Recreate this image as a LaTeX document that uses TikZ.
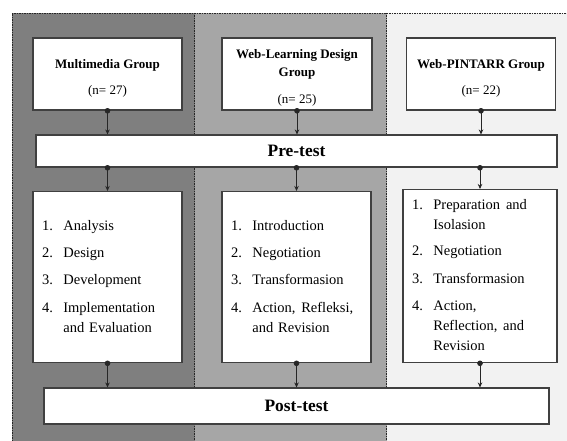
\documentclass[tikz,border=0pt]{standalone}
\usepackage{fontspec}
\setmainfont{Liberation Serif}
\usepackage{xcolor}
\definecolor{PanelDark}{HTML}{7F7F7F}
\definecolor{PanelMid}{HTML}{A6A6A6}
\definecolor{PanelLight}{HTML}{F2F2F2}
\definecolor{BoxLine}{HTML}{404040}
\usepackage{tikz}
\usetikzlibrary{arrows.meta,positioning}

\begin{document}
\begin{tikzpicture}[x=1pt,y=-1pt,
  box/.style={draw=BoxLine, line width=1.1pt, fill=white, inner sep=0pt},
  groupbox/.style={box, minimum height=72pt, align=center, font=\fontsize{13}{18}\selectfont},
  stagebox/.style={box, minimum height=171pt, inner xsep=9pt, font=\fontsize{14.5}{20}\selectfont},
  testbox/.style={box, font=\fontsize{17.4}{20}\selectfont\bfseries},
  link/.style={draw=black!85, line width=0.7pt, shorten <=-2.5pt, {Circle[length=5.5pt]}-{Stealth[length=5pt,width=4.5pt]}},
  panelline/.style={draw=black!85, line width=0.5pt, dash pattern=on 1.5pt off 1pt}]
  \useasboundingbox (0,0) rectangle (567,441);
  % panels
  \fill[PanelDark] (12,13) rectangle (194.5,441);
  \fill[PanelMid] (194.5,13) rectangle (386.5,441);
  \fill[PanelLight] (386.5,13) rectangle (567,441);
  \draw[panelline] (12,441) -- (12,13) -- (567,13);
  \draw[panelline] (194.5,13) -- (194.5,441);
  \draw[panelline] (386.5,13) -- (386.5,441);
  % groups
  \node[groupbox, minimum width=149pt] (grpA) at (107.5,74) {\rule{0pt}{18pt}\textbf{Multimedia Group}\\[8pt](n= 27)};
  \node[groupbox, minimum width=150pt] (grpB) at (297,74) {\rule{0pt}{16pt}\textbf{Web-Learning Design}\\\textbf{Group}\\[9pt](n= 25)};
  \node[groupbox, minimum width=149pt] (grpC) at (481,74) {\rule{0pt}{18pt}\textbf{Web-PINTARR Group}\\[8pt](n= 22)};
  \node[testbox, minimum width=521pt, minimum height=32pt] (pre) at (296.5,151) {Pre-test};
  % stages
  \node[stagebox, text width=131pt] (stA) at (107.5,277) {\begin{tabular}{@{}l@{\hspace{10.5pt}}l@{}}
    1. & Analysis\\[7pt]
    2. & Design\\[7.5pt]
    3. & Development\\[7.5pt]
    4. & Implementation\\
       & and Evaluation
  \end{tabular}};
  \node[stagebox, text width=131pt] (stB) at (296.5,277) {\begin{tabular}{@{}l@{\hspace{10.5pt}}l@{}}
    1. & Introduction\\[7pt]
    2. & Negotiation\\[7.5pt]
    3. & Transformasion\\[7.5pt]
    4. & Action, \hspace{1pt}Refleksi,\\
       & and Revision
  \end{tabular}};
  \node[stagebox, minimum height=173pt, text width=136pt] (stC) at (480,276) {\begin{tabular}{@{}l@{\hspace{10.5pt}}l@{}}
    1. & Preparation \hspace{1pt}and\\
       & Isolasion\\[6pt]
    2. & Negotiation\\[7.5pt]
    3. & Transformasion\\[7pt]
    4. & Action,\\
       & Reflection, \hspace{1pt}and\\
       & Revision
  \end{tabular}};
  \node[testbox, minimum width=505pt, minimum height=36pt] (post) at (296.5,406) {Post-test};
  % connectors
  \foreach \col in {A,B,C}{
    \draw[link] (grp\col.south) -- (grp\col.south |- pre.north);
    \draw[link] (st\col.north |- pre.south) -- (st\col.north);
    \draw[link] (st\col.south) -- (st\col.south |- post.north);
  }
\end{tikzpicture}
\end{document}
